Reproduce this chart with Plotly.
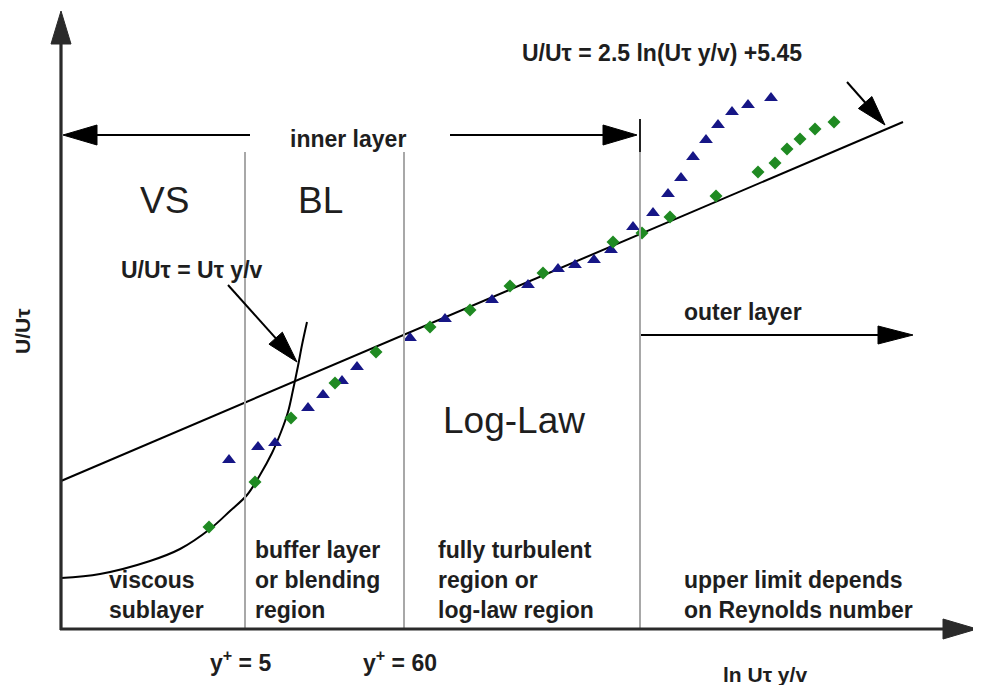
import math
import plotly.graph_objects as go

W, H = 981, 685
OFF = 8  # page body margin in the browser

# ---- data (in the diagram's own coordinate system, 0..981 x 0..685, y downward) ----
tri_x = [229, 258, 275, 308, 323, 342, 357, 410, 445, 492, 528, 558, 575, 594, 611,
         633, 653, 668, 681, 693, 706, 718, 732, 748, 771]
tri_y = [460, 447, 443, 408, 395, 381, 367, 338, 319, 300, 285, 269, 265, 260, 250,
         227, 213, 194, 178, 157, 140, 125, 112, 105, 98]

dia_x = [209, 255, 291, 335, 376, 430, 470, 510, 543, 613, 642, 670, 716, 758, 775,
         787, 800, 815, 834]
dia_y = [527, 482, 418, 383, 352, 327, 310, 286, 273, 242, 233, 217, 196, 172, 163,
         149, 139, 129, 122]

loglaw_x = [61, 903]
loglaw_y = [481, 122]

visc_x = [61, 100, 150, 180, 210, 230, 247, 260, 272, 281, 288, 293, 298, 302, 307]
visc_y = [578, 574, 561, 549, 529, 511, 495, 475, 453, 432, 412, 390, 366, 345, 322]

divider_x = [245, 404, 640]
divider_top, axis_y, axis_x = 152, 629, 61

FONT = "Liberation Sans, Arial, sans-serif"
TXT = "#1e1e1e"

fig = go.Figure()

def arrow(x0, y0, x1, y1, head_len, half_w, width=2.2, color="black"):
    """shaft from (x0,y0) to tip (x1,y1) with filled triangular head"""
    dx, dy = x1 - x0, y1 - y0
    L = math.hypot(dx, dy)
    ux, uy = dx / L, dy / L
    bx, by = x1 - head_len * ux, y1 - head_len * uy
    nx, ny = -uy, ux
    fig.add_shape(type="line", x0=x0, y0=y0, x1=bx + ux * 2, y1=by + uy * 2,
                  line=dict(color=color, width=width), xref="x", yref="y")
    fig.add_trace(go.Scatter(
        x=[bx + half_w * nx, x1, bx - half_w * nx, bx + half_w * nx],
        y=[by + half_w * ny, y1, by - half_w * ny, by + half_w * ny],
        mode="lines", fill="toself", fillcolor=color,
        line=dict(color=color, width=1), hoverinfo="skip", showlegend=False))

# dividers
for dx in divider_x:
    fig.add_shape(type="line", x0=dx, x1=dx, y0=divider_top, y1=axis_y,
                  line=dict(color="#a8a8a8", width=2), xref="x", yref="y")
fig.add_shape(type="line", x0=divider_x[2], x1=divider_x[2], y0=119, y1=152,
              line=dict(color="#222", width=2), xref="x", yref="y")

# axes
arrow(axis_x, axis_y + 1, axis_x, 11, 33, 10, width=3.2, color="#2a2a2a")
arrow(axis_x - 1, axis_y, 977, axis_y, 34, 10, width=3.2, color="#2a2a2a")

# inner / outer layer arrows
arrow(250, 135, 63, 135, 34, 10)
arrow(450, 135, 637, 135, 34, 10)
arrow(641, 335, 913, 335, 35, 9)

# equation pointer arrows
arrow(228, 285, 297, 362, 32, 9, width=2)
arrow(847, 82, 885, 125, 30, 9, width=2)

# log-law line
fig.add_trace(go.Scatter(x=loglaw_x, y=loglaw_y, mode="lines",
                         line=dict(color="black", width=2), hoverinfo="skip",
                         showlegend=False))
# viscous sublayer curve
fig.add_trace(go.Scatter(x=visc_x, y=visc_y, mode="lines",
                         line=dict(color="black", width=2, shape="spline", smoothing=1.0),
                         hoverinfo="skip", showlegend=False))

# data points
fig.add_trace(go.Scatter(x=tri_x, y=tri_y, mode="markers",
                         marker=dict(symbol="triangle-up", size=12, color="#161686"),
                         showlegend=False))
fig.add_trace(go.Scatter(x=dia_x, y=dia_y, mode="markers",
                         marker=dict(symbol="diamond", size=10, color="#1f8a22"),
                         showlegend=False))

def txt(x, y, s, size=23, bold=True, xanchor="center", align="center", angle=0, family=FONT):
    fig.add_annotation(x=x, y=y, xref="x", yref="y", text=(f"<b>{s}</b>" if bold else s),
                       showarrow=False, xanchor=xanchor, yanchor="middle", align=align,
                       textangle=angle, font=dict(family=family, size=size, color=TXT))

txt(348, 139, "inner layer")
txt(743, 312, "outer layer")
txt(662, 53, "U/Uτ = 2.5 ln(Uτ y/v) +5.45")
txt(192, 270, "U/Uτ = Uτ y/v")
txt(164, 200, "VS", size=37, bold=False)
txt(320, 200, "BL", size=37, bold=False)
txt(514, 420, "Log-Law", size=37, bold=False)
txt(107, 595, "viscous<br>sublayer", xanchor="left", align="left")
txt(253, 580, "buffer layer<br>or blending<br>region", xanchor="left", align="left")
txt(436, 580, "fully turbulent<br>region or<br>log-law region", xanchor="left", align="left")
txt(682, 595, "upper limit depends<br>on Reynolds number", xanchor="left", align="left")
txt(240, 661, "y<sup>+</sup> = 5", size=23)
txt(400, 661, "y<sup>+</sup> = 60", size=23)
txt(765, 674, "ln Uτ y/v", size=21)
txt(22, 331, "U/Uτ", size=21, angle=-90)

fig.update_layout(
    width=W - OFF, height=H - OFF, margin=dict(l=0, r=0, t=0, b=0),
    paper_bgcolor="white", plot_bgcolor="white",
    xaxis=dict(range=[OFF, W], visible=False, fixedrange=True),
    yaxis=dict(range=[H, OFF], visible=False, fixedrange=True),
    showlegend=False,
)

fig.write_html("out.html")
